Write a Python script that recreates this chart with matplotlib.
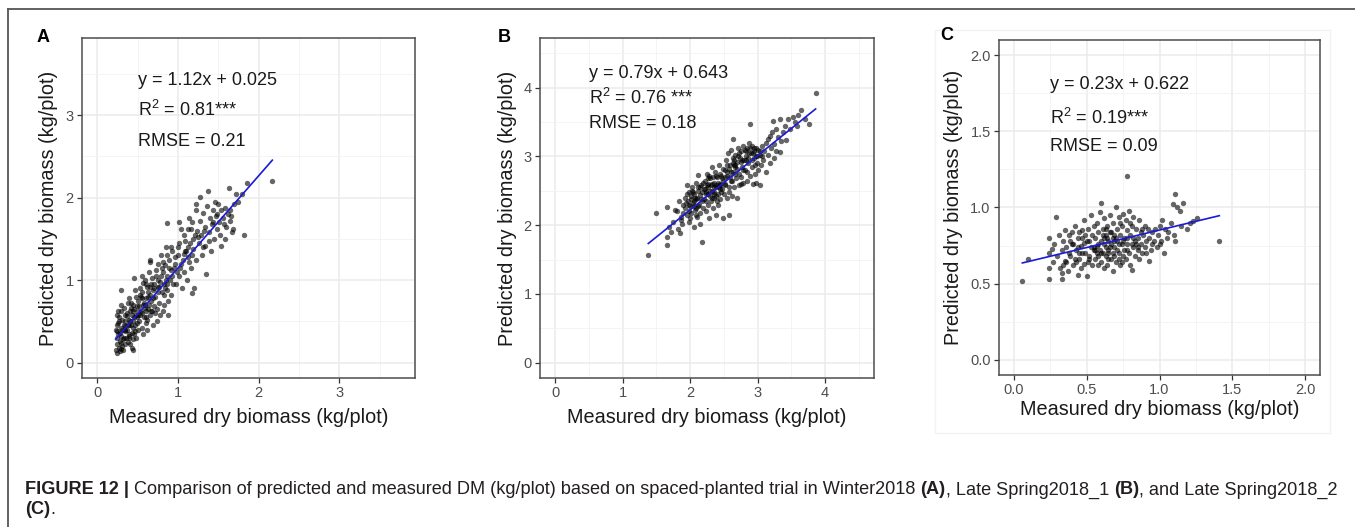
import numpy as np
import matplotlib
matplotlib.use('Agg')
import matplotlib.pyplot as plt
from matplotlib.lines import Line2D
from matplotlib.patches import Rectangle

plt.rcParams['font.family'] = ['Liberation Sans', 'DejaVu Sans']
plt.rcParams['mathtext.fontset'] = 'custom'
plt.rcParams['mathtext.rm'] = 'Liberation Sans'
plt.rcParams['mathtext.it'] = 'Liberation Sans:italic'

# ---- data ----
# panel A (Winter2018)
a_measured = [0.23, 0.24, 0.25, 0.23, 0.26, 0.24, 0.27, 0.28, 0.26, 0.29, 0.27, 0.30, 0.31, 0.30, 0.32, 0.33, 0.31, 0.34,
              0.35, 0.33, 0.29, 0.25, 0.28, 0.32, 0.35, 0.36, 0.24, 0.30, 0.34, 0.28,
              0.37, 0.38, 0.39, 0.40, 0.41, 0.42, 0.43, 0.44, 0.45, 0.46, 0.47, 0.48, 0.49, 0.50, 0.38, 0.40, 0.42, 0.44,
              0.46, 0.48, 0.50, 0.39, 0.41, 0.43, 0.45, 0.47, 0.49, 0.37, 0.44, 0.40, 0.46, 0.48,
              0.51, 0.52, 0.53, 0.54, 0.55, 0.56, 0.57, 0.58, 0.59, 0.60, 0.61, 0.62, 0.63, 0.64, 0.65, 0.66, 0.67, 0.68,
              0.69, 0.70, 0.52, 0.54, 0.56, 0.58, 0.60, 0.62, 0.64, 0.66, 0.68, 0.70, 0.55, 0.57, 0.61, 0.63, 0.67, 0.59,
              0.65, 0.69, 0.53, 0.62,
              0.72, 0.73, 0.74, 0.75, 0.76, 0.77, 0.78, 0.79, 0.80, 0.81, 0.82, 0.83, 0.84, 0.85, 0.86, 0.87, 0.88, 0.89,
              0.90, 0.91, 0.92, 0.93, 0.94, 0.95, 0.86, 0.74, 0.78, 0.83, 0.88, 0.91, 0.76, 0.80, 0.84, 0.87, 0.72,
              0.97, 0.98, 1.00, 1.01, 1.02, 1.03, 1.05, 1.06, 1.07, 1.08, 1.10, 1.11, 1.12, 1.13, 1.15, 1.16, 1.17, 1.18,
              1.19, 1.20, 1.21, 1.22, 1.23, 1.24, 1.00, 1.04, 1.09, 1.14, 0.99, 1.07, 1.19, 1.22, 1.02, 1.13, 1.16,
              1.26, 1.27, 1.28, 1.29, 1.30, 1.31, 1.33, 1.34, 1.35, 1.36, 1.37, 1.38, 1.40, 1.41, 1.42, 1.44, 1.45, 1.47,
              1.48, 1.50, 1.51, 1.52, 1.54, 1.53, 1.46, 1.39, 1.32, 1.49,
              1.56, 1.58, 1.60, 1.62, 1.63, 1.65, 1.66, 1.68, 1.70, 1.72, 1.75, 1.82, 1.86, 1.80, 1.67, 1.59, 2.17,
              0.25, 0.27, 0.29, 0.31, 0.33, 0.35, 0.37, 0.39, 0.41, 0.43, 0.45, 0.47, 0.49, 0.26, 0.30, 0.34, 0.38, 0.42,
              0.46, 0.51, 0.55, 0.59, 0.63, 0.67, 0.71, 0.75, 0.79, 0.83, 0.87, 0.53, 0.57, 0.61, 0.65, 0.69, 0.73,
              0.77, 0.81, 0.85, 0.89, 0.93, 0.96, 1.04, 1.09, 1.14, 1.18, 1.25, 1.31, 1.43, 1.57, 1.64]
a_predicted = [0.15, 0.22, 0.30, 0.40, 0.48, 0.58, 0.18, 0.26, 0.35, 0.42, 0.55, 0.62, 0.20, 0.32, 0.28, 0.45, 0.52, 0.38,
               0.22, 0.66, 0.88, 0.12, 0.14, 0.15, 0.50, 0.30, 0.45, 0.70, 0.58, 0.36,
               0.40, 0.25, 0.52, 0.35, 0.62, 0.45, 0.18, 0.28, 0.70, 0.55, 0.38, 0.80, 0.48, 0.62, 0.72, 0.78, 0.66, 0.42,
               1.03, 0.30, 0.40, 0.30, 0.22, 0.58, 0.15, 0.88, 0.68, 0.60, 0.50, 0.45, 0.35, 0.58,
               0.75, 0.50, 0.90, 0.62, 0.42, 0.85, 0.70, 0.55, 1.00, 0.78, 0.48, 0.92, 0.65, 1.10, 0.82, 0.58, 0.75, 1.02,
               0.88, 0.68, 0.68, 0.80, 0.60, 0.72, 0.95, 0.52, 0.70, 1.22, 0.62, 0.90, 1.05, 0.35, 0.62, 0.80, 0.95, 0.66,
               1.25, 0.45, 0.58, 0.40,
               0.80, 1.05, 0.65, 0.92, 1.20, 0.72, 0.98, 1.30, 0.85, 1.10, 0.62, 0.95, 1.18, 1.40, 0.88, 1.05, 0.75, 1.25,
               1.00, 0.82, 1.12, 1.35, 0.95, 1.15, 1.69, 0.50, 0.58, 0.70, 0.58, 1.40, 1.00, 1.15, 0.90, 1.30, 0.60,
               1.20, 0.95, 1.30, 1.05, 1.45, 1.15, 0.90, 1.25, 1.55, 1.10, 1.35, 1.00, 1.62, 1.28, 1.45, 1.15, 0.84, 1.70,
               1.38, 0.90, 1.55, 1.25, 1.85, 1.60, 1.40, 1.62, 1.48, 1.75, 1.10, 1.32, 1.50, 1.92, 1.70, 1.40, 1.62,
               1.45, 1.72, 2.01, 1.55, 1.30, 1.82, 1.65, 1.42, 1.08, 1.90, 2.08, 1.58, 1.75, 1.35, 1.68, 1.85, 1.50, 1.78,
               1.62, 1.92, 1.70, 1.55, 1.85, 1.42, 1.95, 1.48, 1.60, 1.80,
               1.75, 1.88, 1.65, 1.80, 2.12, 1.72, 1.78, 1.62, 1.92, 2.05, 1.95, 1.55, 2.18, 2.05, 1.58, 1.50, 2.20,
               0.38, 0.50, 0.24, 0.40, 0.30, 0.44, 0.56, 0.32, 0.50, 0.36, 0.62, 0.45, 0.55, 0.62, 0.16, 0.40, 0.46, 0.72,
               0.65, 0.58, 0.78, 0.70, 0.86, 0.62, 0.95, 0.85, 1.05, 0.82, 0.95, 0.82, 0.96, 0.55, 0.92, 0.78, 1.12,
               0.92, 1.22, 1.00, 1.15, 1.05, 1.28, 1.20, 1.35, 1.22, 1.30, 1.52, 1.40, 1.70, 1.68, 1.85]

# panel B (Late Spring2018_1)
b_measured = [1.38, 1.50, 1.66, 1.66, 1.66, 1.85, 1.68, 1.75, 1.80, 1.82, 1.88, 1.86, 1.78, 1.90, 1.72, 1.89, 1.84, 1.87,
              1.92, 1.93, 1.95, 1.96, 1.97, 1.98, 1.99, 2.00, 2.01, 2.02, 2.03, 2.04, 2.05, 2.06, 2.07, 2.08, 2.09, 2.10,
              2.11, 2.12, 2.13, 2.14, 2.15, 2.16, 2.17, 2.18, 2.19, 2.20, 1.94, 1.98, 2.02, 2.06, 2.10, 2.14, 2.18, 2.00,
              2.04, 2.08, 2.12, 2.16, 2.05, 2.09,
              2.21, 2.22, 2.23, 2.24, 2.25, 2.26, 2.27, 2.28, 2.29, 2.30, 2.31, 2.32, 2.33, 2.34, 2.35, 2.36, 2.37, 2.38,
              2.39, 2.40, 2.41, 2.42, 2.43, 2.44, 2.45, 2.46, 2.47, 2.48, 2.49, 2.50, 2.22, 2.26, 2.30, 2.34, 2.38, 2.42,
              2.46, 2.24, 2.28, 2.32, 2.36, 2.40, 2.44, 2.48, 2.27, 2.33, 2.39, 2.45,
              2.51, 2.52, 2.53, 2.54, 2.55, 2.56, 2.57, 2.58, 2.58, 2.59, 2.60, 2.61, 2.62, 2.63, 2.63, 2.64, 2.65, 2.66,
              2.67, 2.68, 2.69, 2.70, 2.71, 2.72, 2.73, 2.74, 2.75, 2.76, 2.77, 2.78, 2.79, 2.80, 2.55, 2.60, 2.65, 2.70,
              2.75, 2.52, 2.57, 2.62, 2.67, 2.72, 2.77,
              2.81, 2.82, 2.83, 2.84, 2.85, 2.86, 2.87, 2.88, 2.89, 2.90, 2.91, 2.92, 2.93, 2.94, 2.95, 2.96, 2.97, 2.98,
              2.99, 3.00, 3.01, 3.03, 3.04, 3.05, 3.06, 3.08, 3.10, 2.83, 2.88, 2.93, 2.98, 2.86, 2.96,
              3.12, 3.13, 3.15, 3.18, 3.18, 3.20, 3.22, 3.23, 3.25, 3.27, 3.28, 3.30, 3.33, 3.33, 3.35, 3.38, 3.42, 3.45,
              3.48, 3.52, 3.55, 3.58, 3.60, 3.65, 3.70, 3.76, 3.86, 3.40, 3.15, 3.25,
              1.95, 1.99, 2.03, 2.07, 2.11, 2.15, 2.19, 2.23, 2.27, 2.31, 2.35, 2.39, 2.43, 2.47, 2.51, 2.55, 2.59, 2.63,
              2.67, 2.71, 2.75, 2.79, 2.83, 2.87, 2.91, 2.95, 2.99, 3.03, 3.07, 2.25, 2.35, 2.45, 2.65, 2.85]
b_predicted = [1.57, 2.17, 1.83, 1.71, 2.27, 1.88, 1.98, 2.05, 2.20, 1.95, 2.02, 2.12, 2.22, 2.30, 1.90, 2.18, 2.35, 2.08,
               2.40, 2.25, 2.59, 2.15, 2.35, 2.48, 2.05, 2.28, 2.42, 2.18, 2.55, 2.32, 1.98, 2.45, 2.22, 2.62, 2.38, 2.12,
               2.50, 2.73, 2.30, 2.44, 2.02, 2.58, 2.35, 1.75, 2.25, 2.52, 2.32, 2.20, 2.38, 2.28, 2.40, 2.18, 2.48, 2.10,
               2.48, 2.15, 2.55, 2.38, 2.35, 2.25,
               2.38, 2.65, 2.20, 2.48, 2.75, 2.30, 2.55, 2.10, 2.42, 2.68, 2.35, 2.85, 2.50, 2.25, 2.62, 2.40, 2.78, 2.15,
               2.55, 2.70, 2.45, 2.30, 2.88, 2.60, 2.38, 2.72, 2.52, 2.10, 2.65, 2.45, 2.52, 2.60, 2.50, 2.70, 2.58, 2.62,
               2.48, 2.35, 2.72, 2.40, 2.55, 2.35, 2.75, 2.82, 2.45, 2.60, 2.42, 2.58,
               2.80, 2.60, 2.95, 2.40, 2.72, 3.05, 2.55, 2.15, 2.48, 2.88, 2.65, 3.10, 2.42, 2.78, 3.25, 2.98, 2.55, 2.85,
               3.02, 2.68, 2.40, 2.92, 3.12, 2.75, 2.58, 2.98, 3.08, 2.70, 2.85, 3.15, 2.62, 2.95, 2.88, 2.78, 2.95, 2.82,
               2.60, 2.70, 2.82, 2.65, 2.75, 3.05, 2.95,
               3.10, 2.80, 3.00, 2.65, 3.12, 2.90, 3.20, 2.72, 3.47, 3.05, 2.85, 3.15, 2.60, 2.98, 3.08, 2.75, 3.00, 2.62,
               2.90, 3.10, 2.80, 2.58, 3.02, 2.88, 3.15, 2.95, 3.08, 3.08, 3.12, 3.05, 3.12, 2.98, 2.88,
               3.20, 2.77, 3.02, 2.91, 3.30, 3.12, 3.35, 3.52, 3.18, 3.08, 3.40, 3.28, 3.06, 3.55, 3.22, 3.35, 3.24, 3.55,
               3.40, 3.58, 3.50, 3.45, 3.60, 3.67, 3.55, 3.48, 3.92, 3.45, 3.25, 2.98,
               2.45, 2.30, 2.50, 2.40, 2.28, 2.55, 2.62, 2.45, 2.68, 2.58, 2.48, 2.72, 2.55, 2.68, 2.58, 2.78, 2.70, 2.90,
               2.88, 3.00, 2.92, 2.80, 2.95, 3.05, 2.95, 3.12, 3.00, 3.08, 3.00, 2.58, 2.45, 2.52, 2.88, 2.78]

# panel C (Late Spring2018_2)
c_measured = [0.06, 0.10, 0.24, 0.24, 0.29, 0.33, 0.24, 0.24, 0.26, 0.28, 0.30, 0.31, 0.32, 0.33, 0.34, 0.35, 0.33, 0.35,
              0.27, 0.34,
              0.36, 0.37, 0.38, 0.39, 0.40, 0.41, 0.42, 0.43, 0.44, 0.44, 0.45, 0.46, 0.47, 0.48, 0.48, 0.49, 0.50, 0.50,
              0.51, 0.52, 0.53, 0.53, 0.54, 0.54, 0.55, 0.36, 0.38, 0.40, 0.42, 0.44, 0.46, 0.47, 0.49, 0.51, 0.52, 0.55,
              0.41, 0.45, 0.43, 0.39,
              0.56, 0.56, 0.57, 0.57, 0.58, 0.58, 0.59, 0.59, 0.60, 0.60, 0.60, 0.61, 0.61, 0.62, 0.62, 0.62, 0.63, 0.63,
              0.64, 0.64, 0.65, 0.65, 0.66, 0.66, 0.67, 0.67, 0.68, 0.68, 0.68, 0.69, 0.69, 0.70, 0.70, 0.71, 0.71, 0.72,
              0.72, 0.73, 0.73, 0.74, 0.74, 0.75, 0.75, 0.56, 0.58, 0.61, 0.63, 0.65, 0.67, 0.69, 0.71, 0.73, 0.60, 0.64,
              0.66, 0.70, 0.72, 0.74,
              0.76, 0.76, 0.77, 0.775, 0.77, 0.78, 0.78, 0.79, 0.79, 0.80, 0.80, 0.81, 0.81, 0.82, 0.82, 0.83, 0.83, 0.84,
              0.85, 0.85, 0.86, 0.87, 0.87, 0.88, 0.89, 0.90, 0.90, 0.91, 0.92, 0.93, 0.93, 0.94, 0.95, 0.95, 0.78, 0.80,
              0.84, 0.86, 0.88, 0.91,
              0.96, 0.97, 0.98, 0.99, 1.00, 1.01, 1.02, 1.04, 1.05, 1.06, 1.08, 1.09, 1.10, 1.107, 1.107, 1.12, 1.14, 1.16,
              1.15, 1.19, 1.21, 1.23, 1.26, 1.41, 1.03, 1.00,
              0.45, 0.48, 0.52, 0.55, 0.58, 0.62, 0.65, 0.68, 0.72, 0.75, 0.78, 0.82, 0.47, 0.57, 0.63, 0.69, 0.81, 0.85]
c_predicted = [0.52, 0.66, 0.80, 0.53, 0.94, 0.53, 0.60, 0.70, 0.73, 0.76, 0.68, 0.82, 0.60, 0.72, 0.78, 0.65, 0.57, 0.85,
               0.64, 0.62,
               0.74, 0.58, 0.82, 0.68, 0.76, 0.62, 0.88, 0.72, 0.56, 0.80, 0.66, 0.75, 0.85, 0.63, 0.92, 0.70, 0.78, 0.55,
               0.86, 0.68, 0.74, 0.95, 0.62, 0.82, 0.72, 0.64, 0.70, 0.84, 0.66, 0.74, 0.60, 0.70, 0.82, 0.64, 0.78, 0.88,
               0.76, 0.84, 0.64, 0.78,
               0.80, 0.66, 0.75, 0.90, 0.62, 0.84, 0.72, 0.97, 1.03, 0.78, 0.64, 0.86, 0.70, 0.60, 0.80, 0.93, 0.74, 0.68,
               0.88, 0.62, 0.78, 0.72, 0.95, 0.84, 0.66, 0.76, 0.90, 0.70, 0.58, 0.82, 0.74, 1.00, 0.64, 0.86, 0.78, 0.70,
               0.94, 0.62, 0.82, 0.76, 0.88, 0.68, 0.96, 0.72, 0.76, 0.82, 0.86, 0.66, 0.84, 0.68, 0.72, 0.90, 0.70, 0.80,
               0.74, 0.80, 0.76, 0.64,
               0.80, 0.72, 0.92, 1.21, 0.66, 0.85, 0.76, 0.70, 0.98, 0.82, 0.62, 0.59, 0.88, 0.74, 0.94, 0.78, 0.68, 0.86,
               0.80, 0.72, 0.92, 0.76, 0.84, 0.70, 0.82, 0.74, 0.88, 0.78, 0.86, 0.65, 0.80, 0.72, 0.84, 0.76, 0.80, 0.90,
               0.76, 0.66, 0.86, 0.70,
               0.78, 0.86, 0.74, 0.82, 0.88, 0.78, 0.92, 0.86, 0.80, 0.84, 0.90, 1.02, 0.82, 1.09, 0.78, 1.00, 0.98, 1.03,
               0.88, 0.86, 0.90, 0.91, 0.93, 0.78, 0.70, 0.76,
               0.70, 0.77, 0.66, 0.74, 0.68, 0.76, 0.70, 0.80, 0.66, 0.78, 0.72, 0.80, 0.80, 0.70, 0.82, 0.78, 0.76, 0.74]

panel_letters = ['A', 'B', 'C']
fit_slope = [1.12, 0.79, 0.23]
fit_intercept = [0.025, 0.643, 0.622]
eq_text = ['y = 1.12x + 0.025', 'y = 0.79x + 0.643', 'y = 0.23x + 0.622']
r2_text = ['R$^{2}$ = 0.81***', 'R$^{2}$ = 0.76 ***', 'R$^{2}$ = 0.19***']
rmse_text = ['RMSE = 0.21', 'RMSE = 0.18', 'RMSE = 0.09']
axis_max = [3.75, 4.5, 2.0]
major_ticks = [[0, 1, 2, 3], [0, 1, 2, 3, 4], [0.0, 0.5, 1.0, 1.5, 2.0]]
minor_ticks = [[0.5, 1.5, 2.5, 3.5], [0.5, 1.5, 2.5, 3.5, 4.5], [0.25, 0.75, 1.25, 1.75]]
tick_fmt = ['{:.0f}', '{:.0f}', '{:.1f}']

measured = [a_measured, b_measured, c_measured]
predicted = [a_predicted, b_predicted, c_predicted]

# ---- layout ----
W, H = 1355, 527
fig = plt.figure(figsize=(W / 100, H / 100), dpi=100)

def px_rect(l, t, r, b):
    return [l / W, 1 - b / H, (r - l) / W, (b - t) / H]

axes_px = [(82, 38, 415, 378), (540, 38, 874, 378), (999, 40, 1320, 375)]
text_pos = [(0.168, [0.874, 0.788, 0.697]), (0.147, [0.897, 0.823, 0.75]), (0.159, [0.866, 0.767, 0.681])]
ylabel_x = [-0.102, -0.096, -0.143]
xlabel_y = [-0.115, -0.115, -0.104]
letter_px = [(37, 37), (498, 37), (940, 36)]

# faint backdrop behind panel C
fig.add_artist(Rectangle((935 / W, 1 - 433 / H), (1330 - 935) / W, (433 - 30) / H,
                         transform=fig.transFigure, facecolor='none', edgecolor='#f2f2f2', lw=1, zorder=-5))

for i in range(3):
    ax = fig.add_axes(px_rect(*axes_px[i]))
    pad = axis_max[i] * 0.05
    ax.set_xlim(-pad, axis_max[i] + pad)
    ax.set_ylim(-pad, axis_max[i] + pad)
    ax.set_xticks(major_ticks[i])
    ax.set_yticks(major_ticks[i])
    ax.set_xticks(minor_ticks[i], minor=True)
    ax.set_yticks(minor_ticks[i], minor=True)
    ax.set_xticklabels([tick_fmt[i].format(t) for t in major_ticks[i]])
    ax.set_yticklabels([tick_fmt[i].format(t) for t in major_ticks[i]])
    ax.grid(which='major', color='#ebebeb', lw=1.1, zorder=0)
    ax.grid(which='minor', color='#f2f2f2', lw=0.6, zorder=0)
    ax.set_axisbelow(True)
    ax.tick_params(which='major', length=3.5, width=0.9, color='#333333', labelcolor='#4d4d4d',
                   labelsize=10.5, pad=2.5)
    ax.tick_params(which='minor', length=0)
    for s in ax.spines.values():
        s.set_color('#4d4d4d')
        s.set_linewidth(1.1)

    ax.scatter(measured[i], predicted[i], s=15, color='black', alpha=0.6, linewidths=0, zorder=3)
    xs = np.array([min(measured[i]), max(measured[i])])
    ax.plot(xs, fit_slope[i] * xs + fit_intercept[i], color='#1a1adb', lw=1.2, zorder=4)

    tx, tys = text_pos[i]
    for txt, ty in zip([eq_text[i], r2_text[i], rmse_text[i]], tys):
        ax.text(tx, ty, txt, transform=ax.transAxes, fontsize=13, va='center', ha='left', color='#1a1a1a')

    ax.set_xlabel('Measured dry biomass (kg/plot)', fontsize=14.3, color='#1a1a1a')
    ax.set_ylabel('Predicted dry biomass (kg/plot)', fontsize=14.3, color='#1a1a1a')
    ax.xaxis.set_label_coords(0.5, xlabel_y[i])
    ax.yaxis.set_label_coords(ylabel_x[i], 0.5)
    ax.xaxis.label.set_va('center')
    ax.yaxis.label.set_va('center')

    lx, ly = letter_px[i]
    fig.text(lx / W, 1 - ly / H, panel_letters[i], fontsize=13, fontweight='bold', va='center', ha='left')

# figure frame (top and left rule)
fig.add_artist(Line2D([8 / W, 1], [1 - 8.5 / H, 1 - 8.5 / H], transform=fig.transFigure, color='#555555', lw=1.3))
fig.add_artist(Line2D([8 / W, 8 / W], [0, 1 - 8.5 / H], transform=fig.transFigure, color='#555555', lw=1.3))

# caption with mixed weights
caption_lines = [
    [('FIGURE 12 |', 'bold'), (' Comparison of predicted and measured DM (kg/plot) based on spaced-planted trial in Winter2018 ', 'normal'),
     ('(A)', 'bold'), (', Late Spring2018_1 ', 'normal'), ('(B)', 'bold'), (', and Late Spring2018_2', 'normal')],
    [('(C)', 'bold'), ('.', 'normal')],
]
caption_y = [490, 510]
renderer = fig.canvas.get_renderer()
for segs, cy in zip(caption_lines, caption_y):
    x = 25
    for s, wt in segs:
        t = fig.text(x / W, 1 - cy / H, s, fontsize=13.05, fontweight=wt, va='center', ha='left', color='#231f20')
        x += t.get_window_extent(renderer).width

fig.savefig('out.png', dpi=100)
